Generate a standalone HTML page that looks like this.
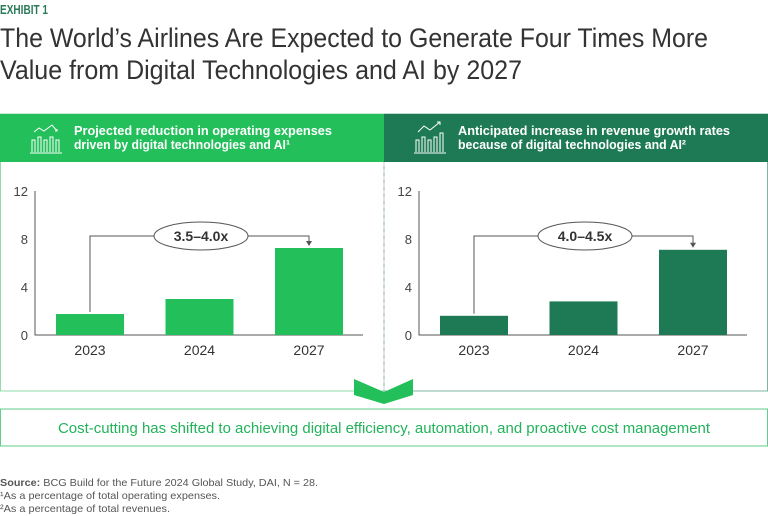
<!DOCTYPE html>
<html><head><meta charset="utf-8"><style>
html,body{margin:0;padding:0;background:#fff;}
svg{display:block;font-family:"Liberation Sans",sans-serif;}
</style></head><body>
<svg id="s" width="768" height="516" viewBox="0 0 768 516">
<text x="0" y="14" font-size="13" font-weight="bold" fill="#2a7a5a" textLength="48" lengthAdjust="spacingAndGlyphs">EXHIBIT 1</text>
<text x="0" y="47" font-size="27" fill="#333" textLength="708" lengthAdjust="spacingAndGlyphs">The World’s Airlines Are Expected to Generate Four Times More</text>
<text x="0" y="79" font-size="27" fill="#333" textLength="522" lengthAdjust="spacingAndGlyphs">Value from Digital Technologies and AI by 2027</text>

<rect x="0.5" y="114" width="383.5" height="277" fill="none" stroke="#8fdcaa"/>
<rect x="384" y="114" width="383.5" height="277" fill="none" stroke="#7fb59c"/>
<line x1="384" y1="162" x2="384" y2="391" stroke="#ccc" stroke-dasharray="4,3"/>
<rect x="0" y="114" width="384" height="48" fill="#22bf5b"/>
<rect x="384" y="114" width="384" height="48" fill="#1d7a55"/>

<g fill="none" stroke="#fff" stroke-width="1">
<path d="M34 132 L39 128 L44 131 L52 125 L57 131"/><path d="M55 131 L57 131 L57 129"/>
<path d="M32 152 V140 H35 V152 M38 152 V137 H41 V152 M44 152 V140 H47 V152 M50 152 V137 H53 V152 M56 152 V140 H59 V152"/><line x1="30" y1="153" x2="62" y2="153"/>
</g>
<g fill="none" stroke="#fff" stroke-width="1">
<path d="M418 132 L424 126 L430 130 L440 122"/><path d="M437 122 L440 122 L440 125"/>
<path d="M416 152 V140 H419 V152 M422 152 V137 H425 V152 M428 152 V140 H431 V152 M434 152 V137 H437 V152 M440 152 V133 H443 V152"/><line x1="414" y1="153" x2="446" y2="153"/>
</g>
<text x="74" y="135" font-size="13" font-weight="bold" fill="#fff" textLength="258" lengthAdjust="spacingAndGlyphs">Projected reduction in operating expenses</text>
<text x="74" y="149" font-size="13" font-weight="bold" fill="#fff" textLength="216" lengthAdjust="spacingAndGlyphs">driven by digital technologies and AI¹</text>
<text x="458" y="135" font-size="13" font-weight="bold" fill="#fff" textLength="272" lengthAdjust="spacingAndGlyphs">Anticipated increase in revenue growth rates</text>
<text x="458" y="149" font-size="13" font-weight="bold" fill="#fff" textLength="228" lengthAdjust="spacingAndGlyphs">because of digital technologies and AI²</text>

<g id="charts"></g>

<polygon points="354,379 384,392 413,379 413,395 384,404 354,395" fill="#22bf5b"/>
<rect x="0.5" y="409" width="767" height="37" fill="none" stroke="#5fcf88"/>
<text x="58" y="433" font-size="15" fill="#22b35a" textLength="652" lengthAdjust="spacingAndGlyphs">Cost-cutting has shifted to achieving digital efficiency, automation, and proactive cost management</text>

<text x="0" y="486" font-size="10.5" fill="#555" textLength="318" lengthAdjust="spacingAndGlyphs"><tspan font-weight="bold">Source:</tspan> BCG Build for the Future 2024 Global Study, DAI, N = 28.</text>
<text x="0" y="499" font-size="10.5" fill="#555" textLength="220" lengthAdjust="spacingAndGlyphs">¹As a percentage of total operating expenses.</text>
<text x="0" y="512" font-size="10.5" fill="#555" textLength="170" lengthAdjust="spacingAndGlyphs">²As a percentage of total revenues.</text>
</svg>
<script>
const categories = ["2023","2024","2027"];
const costValues = [1.75, 3.0, 7.25];
const revenueValues = [1.6, 2.8, 7.1];
const yTicks = [0, 4, 8, 12];
const callouts = ["3.5–4.0x", "4.0–4.5x"];

const NS = "http://www.w3.org/2000/svg";
const g = document.getElementById("charts");
function mk(tag, attrs, parent) {
  const e = document.createElementNS(NS, tag);
  for (const k in attrs) e.setAttribute(k, attrs[k]);
  (parent || g).appendChild(e);
  return e;
}
function drawChart(ox, values, color, label, key) {
  const y = v => 335 - v * 12;
  const x = i => ox + 56 + i * 109.5;
  const bw = 68;
  const grp = mk("g", {});
  
  
  const ax = mk("path", {d: `M${ox+35} ${y(12)} V${y(0)} H${ox+363}`, stroke: "#555", fill: "none"}, grp);
  
  
  yTicks.forEach(t => {
    const tx = mk("text", {x: ox+28, y: y(t)+5, "font-size": 13, fill: "#444", "text-anchor": "end"}, grp);
    tx.textContent = t;
    
    
  });
  values.forEach((v, i) => {
    const r = mk("rect", {x: x(i), y: y(v), width: bw, height: y(0)-y(v), fill: color}, grp);
    
    
    const t = mk("text", {x: x(i)+bw/2, y: 355, "font-size": 14, fill: "#333", "text-anchor": "middle"}, grp);
    t.textContent = categories[i];
    
    
  });
  const x0 = x(0) + 34, x2 = x(2) + 34, ly = 236, cx = ox + 201;
  const br = mk("path", {d: `M${x0} ${y(values[0])-2} V${ly} H${cx-47} M${cx+47} ${ly} H${x2} V${y(values[2])-5}`, stroke: "#555", fill: "none"}, grp);
  
  
  const ar = mk("polygon", {points: `${x2-3},${y(values[2])-7} ${x2+3},${y(values[2])-7} ${x2},${y(values[2])-2}`, fill: "#555"}, grp);
  
  
  const el = mk("ellipse", {cx: cx, cy: ly, rx: 47, ry: 14, fill: "#fff", stroke: "#555"}, grp);
  
  
  const ct = mk("text", {x: cx, y: ly+5, "font-size": 14, "font-weight": "bold", fill: "#333", "text-anchor": "middle"}, grp);
  ct.textContent = label;
  
  
}
drawChart(0, costValues, "#22bf5b", callouts[0], "cost");
drawChart(384, revenueValues, "#1d7a55", callouts[1], "revenue");
</script>
</body></html>
